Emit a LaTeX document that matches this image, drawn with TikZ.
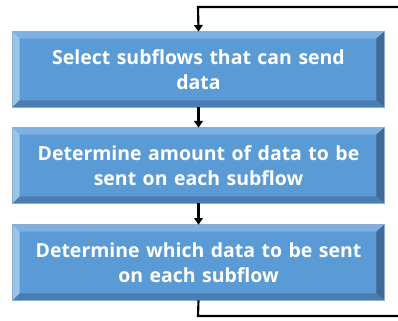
\documentclass[tikz,border=0pt]{standalone}
\usepackage{fontspec}
\setmainfont{Open Sans}
\usetikzlibrary{arrows.meta,calc}
\definecolor{face}{HTML}{5B9BD5}
\definecolor{btop}{HTML}{7EB0E1}
\definecolor{bleft}{HTML}{9CC3E8}
\definecolor{bright}{HTML}{3E6A96}
\definecolor{bbottom}{HTML}{4A7EB2}
\definecolor{bline}{HTML}{8EACCF}
\begin{document}
\begin{tikzpicture}[x=0.75pt,y=-0.75pt,
  flowbox/.style={rectangle, fill=face, draw=bline, line width=0.5pt,
    minimum width=371*0.75pt, minimum height=75*0.75pt, inner sep=0pt,
    text=white, font=\bfseries\fontsize{14.6}{19}\selectfont, align=center, text width=270pt},
  conn/.style={line width=1.6pt, draw=black},
  arr/.style={conn, -{Triangle[width=6.5pt,length=5pt]}}]
\useasboundingbox (0,0) rectangle (398,320);
\node[flowbox] (b1) at (198.5,69.5) {};
\node[flowbox] (b2) at (198.5,165.5) {};
\node[flowbox] (b3) at (198.5,262.5) {};
\foreach \n in {b1,b2,b3}{
  \coordinate (nw) at (\n.north west);
  \coordinate (ne) at (\n.north east);
  \coordinate (sw) at (\n.south west);
  \coordinate (se) at (\n.south east);
  \coordinate (inw) at ($(nw)+(7,7)$);
  \coordinate (ine) at ($(ne)+(-8,7)$);
  \coordinate (isw) at ($(sw)+(7,-7)$);
  \coordinate (ise) at ($(se)+(-8,-7)$);
  \fill[btop] (nw) -- (ne) -- (ine) -- (inw) -- cycle;
  \fill[bleft] (nw) -- (inw) -- (isw) -- (sw) -- cycle;
  \fill[bright] (ne) -- (se) -- (ise) -- (ine) -- cycle;
  \fill[bbottom] (sw) -- (isw) -- (ise) -- (se) -- cycle;
  \draw[bline, line width=0.5pt] (nw) rectangle (se);
}
\node[flowbox, fill=none, draw=none] (t1) at (b1) {Select subflows that can send\\data};
\node[flowbox, fill=none, draw=none] (t2) at (b2) {Determine amount of data to be\\sent on each subflow};
\node[flowbox, fill=none, draw=none] (t3) at (b3) {Determine which data to be sent\\on each subflow};
\coordinate (topr) at (400,7);
\coordinate (topl) at (198,7);
\coordinate (botl) at (198,316);
\coordinate (botr) at (400,316);
\draw[arr] (topr) -- (topl) -- (b1.north);
\draw[arr] (b1.south) -- (b2.north);
\draw[arr] (b2.south) -- (b3.north);
\draw[conn] (b3.south) -- (botl) -- (botr);
\end{tikzpicture}
\end{document}
